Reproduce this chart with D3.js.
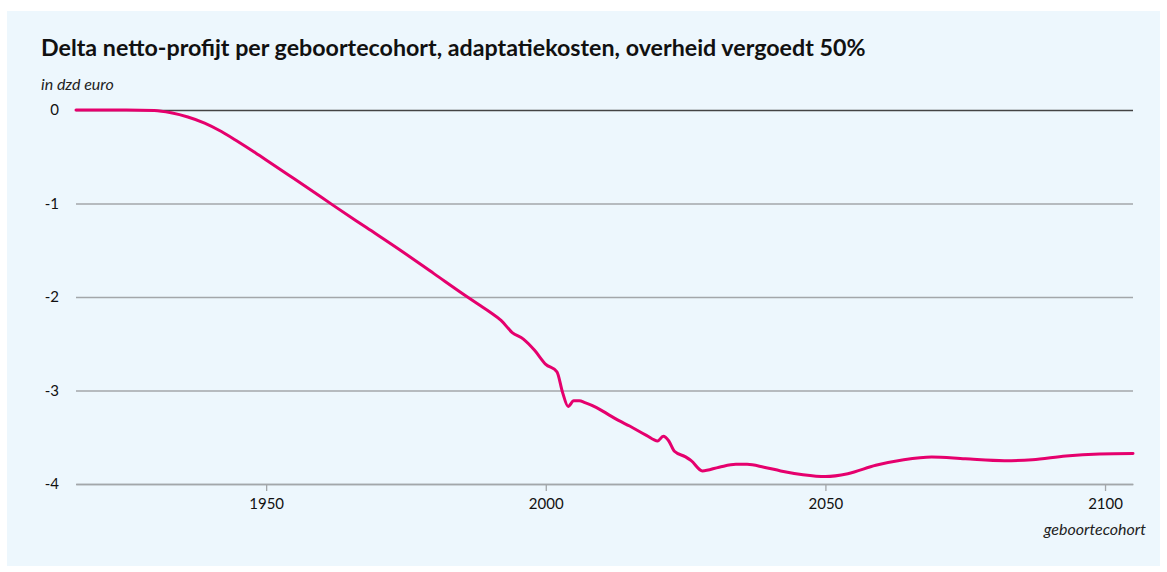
<!DOCTYPE html>
<html>
<head>
<meta charset="utf-8">
<script src="https://cdn.jsdelivr.net/npm/d3@7"></script>
<style>
  html, body { margin: 0; padding: 0; background: #ffffff; }
  svg { display: block; font-family: Lato, "Noto Sans", sans-serif; }
</style>
</head>
<body>
<svg id="chart" width="1167" height="572"></svg>
<script>
// ---- data ----
const title = "Delta netto-profijt per geboortecohort, adaptatiekosten, overheid vergoedt 50%";
const yUnit = "in dzd euro";
const xLabel = "geboortecohort";
const years = [1916, 1920, 1925, 1930, 1933, 1936, 1939, 1942, 1945, 1948, 1951, 1954, 1957,
  1962, 1968, 1974, 1980, 1986, 1988, 1990, 1992, 1994, 1996, 1998, 2000, 2002, 2003, 2004,
  2005, 2006, 2007, 2009, 2011, 2013, 2015, 2018, 2020, 2021, 2022, 2023, 2025, 2026, 2028,
  2031, 2034, 2036, 2039, 2042, 2046, 2050, 2054, 2059, 2064, 2069, 2075, 2082, 2087, 2093,
  2099, 2105];
const values = [0.0, 0.0, 0.0, -0.005, -0.03, -0.075, -0.14, -0.23, -0.34, -0.455, -0.575, -0.695, -0.815,
  -1.02, -1.26, -1.50, -1.75, -2.0, -2.08, -2.16, -2.25, -2.38, -2.45, -2.57, -2.72, -2.80, -3.02, -3.17,
  -3.11, -3.11, -3.13, -3.18, -3.25, -3.32, -3.38, -3.48, -3.54, -3.49, -3.54, -3.65, -3.71, -3.75, -3.86,
  -3.82, -3.79, -3.79, -3.82, -3.86, -3.90, -3.92, -3.89, -3.80, -3.74, -3.71, -3.73, -3.75, -3.74, -3.70,
  -3.68, -3.675];
const xTicks = [1950, 2000, 2050, 2100];
const yTicks = [0, -1, -2, -3, -4];
const xDomain = [1916, 2105];
const yDomain = [-4, 0];

// ---- layout ----
const plot = { left: 76, right: 1133, top: 110, bottom: 484 };
const svg = d3.select("#chart");

svg.append("rect").attr("x", 7).attr("y", 11).attr("width", 1153).attr("height", 555)
  .attr("fill", "#edf7fd");

const x = d3.scaleLinear().domain(xDomain).range([plot.left, plot.right]);
const y = d3.scaleLinear().domain(yDomain).range([plot.bottom, plot.top]);

// title
const t = svg.append("text").attr("x", 41).attr("y", 56)
  .attr("font-weight", 700).attr("font-size", 22).attr("fill", "#111")
  .text(title);
const tw = t.node().getComputedTextLength();
t.attr("font-size", 22 * 825 / tw);

svg.append("text").attr("x", 41).attr("y", 90)
  .attr("font-style", "italic").attr("font-size", 16).attr("fill", "#222")
  .text(yUnit);

// y grid + labels
const yAxis = d3.axisLeft(y).tickValues(yTicks).tickSize(-(plot.right - plot.left))
  .tickFormat(d => d === 0 ? "0" : String(d).replace("\u2212", "-"));
const gy = svg.append("g").attr("transform", `translate(${plot.left},0)`).call(yAxis);
gy.select(".domain").remove();
gy.selectAll(".tick line").attr("stroke", d => d === 0 ? "#444" : "#a3a7aa").attr("stroke-width", 1.3);
gy.selectAll(".tick text").attr("x", -17).attr("font-size", 15).attr("fill", "#111")
  .attr("font-family", "Lato, 'Noto Sans', sans-serif");

// x axis
const xAxis = d3.axisBottom(x).tickValues(xTicks).tickSize(7).tickSizeOuter(0).tickFormat(d3.format("d"));
const gx = svg.append("g").attr("transform", `translate(0,${plot.bottom})`).call(xAxis);
gx.select(".domain").attr("stroke", "#a3a7aa").attr("stroke-width", 1.3);
gx.selectAll(".tick line").attr("stroke", "#a3a7aa").attr("stroke-width", 1.3);
gx.selectAll(".tick text").attr("y", 14).attr("font-size", 15).attr("fill", "#111")
  .attr("font-family", "Lato, 'Noto Sans', sans-serif");

svg.append("text").attr("x", 1146).attr("y", 535).attr("text-anchor", "end")
  .attr("font-style", "italic").attr("font-size", 16).attr("fill", "#222")
  .text(xLabel);

// line
const data = years.map((yr, i) => ({ yr, v: values[i] }));
const line = d3.line().x(d => x(d.yr)).y(d => y(d.v)).curve(d3.curveMonotoneX);
svg.append("path").datum(data).attr("d", line)
  .attr("fill", "none").attr("stroke", "#e5006d").attr("stroke-width", 3)
  .attr("stroke-linejoin", "round").attr("stroke-linecap", "round");
</script>
</body>
</html>
